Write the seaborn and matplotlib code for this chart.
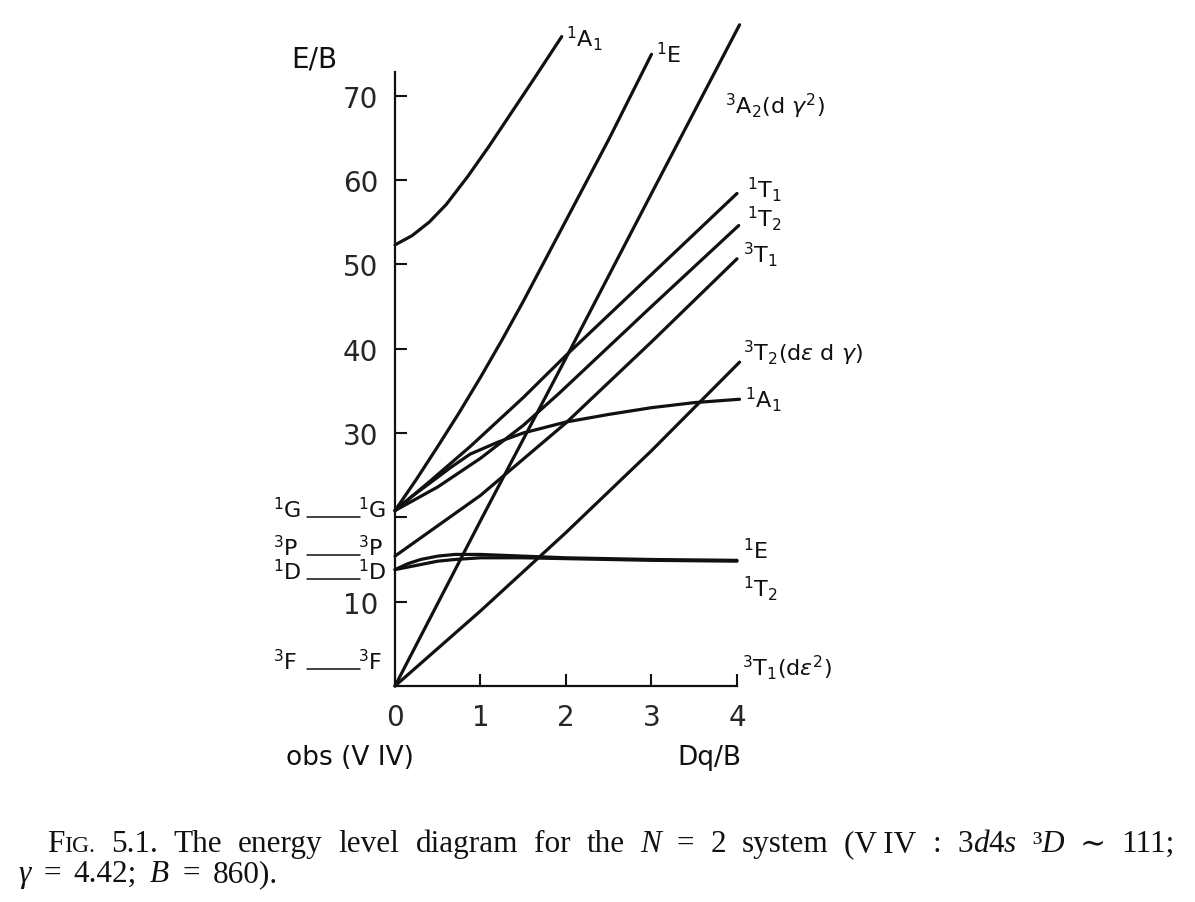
import numpy as np
import pandas as pd
import seaborn as sns
import matplotlib.pyplot as plt

# levels: Dq/B on x, E/B on y
s_a1_x = [0, 0.2, 0.4, 0.6, 0.85, 1.1, 1.35, 1.6, 1.95]
s_a1_y = [52.3, 53.4, 55.0, 57.1, 60.4, 64.0, 67.8, 71.6, 77.0]

g_e_x = [0, 0.25, 0.5, 0.75, 1.0, 1.25, 1.5, 2.0, 2.5, 3.0]
g_e_y = [20.8, 24.5, 28.4, 32.4, 36.6, 41.0, 45.6, 55.2, 64.8, 74.9]

f_a2_x = [0, 1, 2, 3, 4.03]
f_a2_y = [0, 19.6, 38.9, 58.4, 78.4]

g_t1_x = [0, 0.4, 0.88, 1.5, 2, 3, 4]
g_t1_y = [20.8, 24.2, 28.4, 34.2, 39.2, 48.8, 58.4]

g_t2_x = [0, 0.5, 1, 1.5, 1.93, 3, 4.02]
g_t2_y = [20.8, 23.6, 27.0, 30.9, 34.8, 45.0, 54.6]

p_t1_x = [0, 0.5, 1, 2, 3, 4.0]
p_t1_y = [15.4, 19.0, 22.6, 31.2, 40.8, 50.65]

f_t2_x = [0, 1, 2, 3, 4.03]
f_t2_y = [0, 8.9, 18.2, 27.9, 38.4]

g_a1_x = [0, 0.2, 0.4, 0.65, 0.88, 1.2, 1.5, 2, 2.5, 3, 3.5, 4.03]
g_a1_y = [20.8, 22.5, 24.0, 25.9, 27.5, 28.9, 30.0, 31.3, 32.2, 33.0, 33.6, 34.0]

d_e_x = [0, 0.15, 0.3, 0.5, 0.7, 1.0, 1.5, 2, 3, 4]
d_e_y = [13.8, 14.5, 15.0, 15.4, 15.6, 15.6, 15.4, 15.2, 15.0, 14.9]

d_t2_x = [0, 0.15, 0.3, 0.5, 0.7, 1.0, 1.5, 2, 3, 4]
d_t2_y = [13.8, 14.1, 14.4, 14.8, 15.0, 15.2, 15.2, 15.1, 14.9, 14.8]

x_ticks = [0, 1, 2, 3, 4]
y_ticks = [10, 20, 30, 40, 50, 60, 70]
y_tick_labels = ["10", "", "30", "40", "50", "60", "70"]

curves = [
    ("1S-1A1", s_a1_x, s_a1_y),
    ("1G-1E", g_e_x, g_e_y),
    ("3F-3A2", f_a2_x, f_a2_y),
    ("1G-1T1", g_t1_x, g_t1_y),
    ("1G-1T2", g_t2_x, g_t2_y),
    ("3P-3T1", p_t1_x, p_t1_y),
    ("3F-3T2", f_t2_x, f_t2_y),
    ("1G-1A1", g_a1_x, g_a1_y),
    ("1D-1E", d_e_x, d_e_y),
    ("1D-1T2", d_t2_x, d_t2_y),
]
df = pd.concat([pd.DataFrame({"dq": x, "e": y, "level": name}) for name, x, y in curves])

sns.set_style("ticks")
plt.rcParams["font.family"] = ["DejaVu Sans"]
plt.rcParams["mathtext.fontset"] = "dejavusans"

W, H = 1195, 903
fig = plt.figure(figsize=(W / 100, H / 100), dpi=100)
ax = fig.add_axes([395 / W, 1 - 687 / H, 342 / W, (687 - 73) / H])

sns.lineplot(data=df, x="dq", y="e", units="level", estimator=None, sort=False,
             color="#111111", lw=2.3, ax=ax)
for ln in ax.lines:
    ln.set_clip_on(False)
    ln.set_solid_joinstyle("round")

ax.set_xlim(0, 4)
ax.set_ylim(0, 72.8)
sns.despine(ax=ax)
for side in ["left", "bottom"]:
    ax.spines[side].set_linewidth(1.6)
    ax.spines[side].set_color("#111111")
ax.set_xticks(x_ticks)
ax.set_yticks(y_ticks, y_tick_labels)
ax.tick_params(direction="in", length=8.5, width=1.5, labelsize=20, pad=12, color="#111111")
ax.set_xlabel("")
ax.set_ylabel("")

lab = dict(fontsize=16, va="baseline", ha="left", color="#111111")
right_labels = [
    (r"$^1$A$_1$", 2.0, 75.9),
    (r"$^1$E", 3.05, 74.0),
    (r"$^3$A$_2$(d $\gamma^2$)", 3.86, 67.9),
    (r"$^1$T$_1$", 4.12, 58.0),
    (r"$^1$T$_2$", 4.12, 54.6),
    (r"$^3$T$_1$", 4.07, 50.3),
    (r"$^3$T$_2$(d$\epsilon$ d $\gamma$)", 4.07, 38.6),
    (r"$^1$A$_1$", 4.09, 33.1),
    (r"$^1$E", 4.07, 15.1),
    (r"$^1$T$_2$", 4.07, 10.7),
    (r"$^3$T$_1$(d$\epsilon^2$)", 4.06, 1.4),
]
for s, x, y in right_labels:
    ax.text(x, y, s, **lab)

free_terms = [(r"$^1$G", 20.0), (r"$^3$P", 15.5), (r"$^1$D", 12.7), (r"$^3$F", 2.0)]
for s, y in free_terms:
    ax.text(-1.43, y, s, **lab)
    ax.text(-0.43, y, s, **lab)
    ax.plot([-1.03, -0.41], [y, y], color="#111111", lw=1.1, clip_on=False)

ax.text(-0.94, 73.5, "E/B", fontsize=20, ha="center", va="baseline", color="#111111")
ax.text(-0.53, -9.25, "obs (V IV)", fontsize=19, ha="center", va="baseline", color="#111111")
ax.text(3.68, -9.25, "Dq/B", fontsize=19, ha="center", va="baseline", color="#111111")

# caption, set word by word so the first line can be justified
renderer = fig.canvas.get_renderer()
serif = ["Liberation Serif", "DejaVu Serif"]


def caption_line(x0, base, words, width=None, gap=7.0):
    # words: (text, italic, size, space_after)
    made = []
    for s, it, size, sp in words:
        t = fig.text(0, 1 - base / H, s, fontsize=size, family=serif,
                     style="italic" if it else "normal", va="baseline", color="#111111")
        made.append((t, t.get_window_extent(renderer).width, sp))
    n_gaps = sum(1 for _, _, sp in made[:-1] if sp)
    if width is not None:
        gap = (width - sum(w for _, w, _ in made)) / n_gaps
    x = x0
    for t, w, sp in made:
        t.set_x(x / W)
        x += w + (gap if sp else 0)


cs = 22.5
line1 = [("F", 0, cs, 0), ("IG.", 0, 17, 1), ("5.1.", 0, cs, 1), ("The", 0, cs, 1),
         ("energy", 0, cs, 1), ("level", 0, cs, 1), ("diagram", 0, cs, 1), ("for", 0, cs, 1),
         ("the", 0, cs, 1), ("N", 1, cs, 1), ("=", 0, cs, 1), ("2", 0, cs, 1),
         ("system", 0, cs, 1), ("(V\u2009IV", 0, cs, 1), (":", 0, cs, 1),
         ("3", 0, cs, 0), ("d", 1, cs, 0), ("4", 0, cs, 0), ("s", 1, cs, 1),
         ("\u00b3", 0, cs, 0), ("D", 1, cs, 1), ("\u223c", 0, cs, 1), ("111;", 0, cs, 0)]
line2 = [("\u03b3", 1, cs, 1), ("=", 0, cs, 1), ("4.42;", 0, cs, 1), ("B", 1, cs, 1),
         ("=", 0, cs, 1), ("860).", 0, cs, 0)]
caption_line(47, 852, line1, width=1175 - 47)
caption_line(18, 882, line2, gap=13)

fig.savefig("out.png", dpi=100, facecolor="white")
